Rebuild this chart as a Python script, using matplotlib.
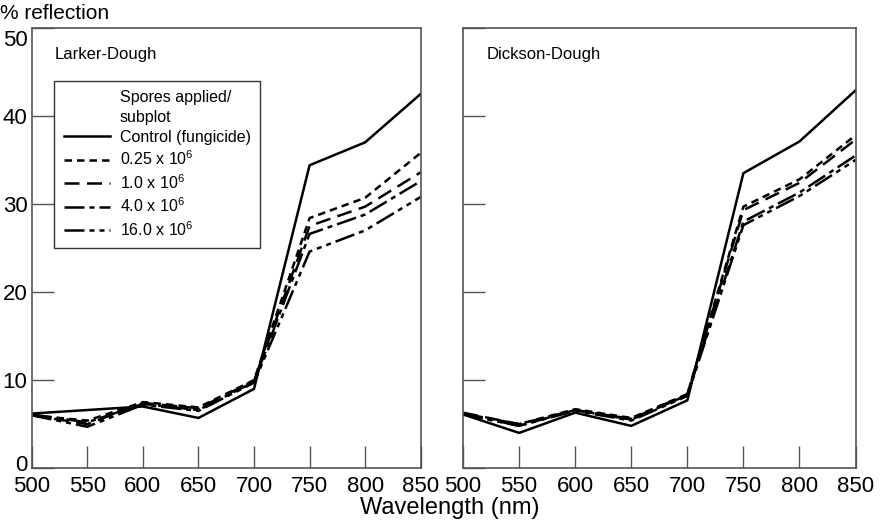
import matplotlib
matplotlib.use("Agg")
import matplotlib.pyplot as plt
import matplotlib.transforms as mtransforms
from matplotlib.lines import Line2D

plt.rcParams['font.family'] = ['Liberation Sans', 'DejaVu Sans']
plt.rcParams['mathtext.fontset'] = 'custom'
plt.rcParams['mathtext.rm'] = 'Liberation Sans'
plt.rcParams['mathtext.it'] = 'Liberation Sans'

wavelength = [500, 550, 600, 650, 700, 750, 800, 850]

series_labels = ['Control (fungicide)', '0.25 x 10$^6$', '1.0 x 10$^6$',
                 '4.0 x 10$^6$', '16.0 x 10$^6$']

# Larker-Dough
larker = [
    [6.2, 6.6, 7.0, 5.7, 9.0, 34.4, 37.0, 42.5],
    [6.0, 5.4, 7.5, 6.9, 10.0, 28.4, 30.7, 35.8],
    [6.0, 5.0, 7.4, 6.8, 9.9, 27.5, 29.7, 33.6],
    [6.1, 5.2, 7.3, 6.6, 9.8, 26.6, 28.8, 32.6],
    [6.0, 4.7, 7.2, 6.5, 9.7, 24.6, 27.0, 30.8],
]

# Dickson-Dough
dickson = [
    [6.1, 4.0, 6.3, 4.8, 7.7, 33.5, 37.1, 42.9],
    [6.2, 5.0, 6.7, 5.7, 8.4, 29.7, 32.8, 37.8],
    [6.3, 5.0, 6.6, 5.6, 8.4, 29.3, 32.4, 37.3],
    [6.2, 4.8, 6.6, 5.5, 8.3, 28.0, 31.3, 35.5],
    [6.1, 4.8, 6.5, 5.4, 8.2, 27.6, 30.9, 35.0],
]

styles = ['-', (0, (3, 2)), (0, (6, 3)), (0, (8, 2, 2, 2)), (0, (8, 2, 2, 2, 2, 2))]

fig = plt.figure(figsize=(8.82, 5.26), dpi=100)
ax1 = fig.add_axes([0.036, 0.110, 0.441, 0.837])
ax2 = fig.add_axes([0.525, 0.110, 0.445, 0.837])

handles = []
for ax, data, name in [(ax1, larker, 'Larker-Dough'), (ax2, dickson, 'Dickson-Dough')]:
    hs = []
    for vals, lab, ls in zip(data, series_labels, styles):
        h, = ax.plot(wavelength, vals, color='black', lw=1.8, linestyle=ls, label=lab)
        hs.append(h)
    if not handles:
        handles = hs
    ax.set_xlim(500, 850)
    ax.set_ylim(0, 50)
    ax.set_xticks(wavelength)
    ax.set_yticks([0, 10, 20, 30, 40, 50])
    ax.tick_params(direction='in', length=16, width=1, color='#555555',
                   labelsize=16)
    ax.tick_params(axis='x', pad=6)
    ax.tick_params(axis='y', pad=3)
    for s in ax.spines.values():
        s.set_color('#555555')
        s.set_linewidth(1.2)
    ax.text(0.06, 0.94, name, transform=ax.transAxes, fontsize=12,
            va='center', ha='left')

ax2.tick_params(labelleft=False)

# top label "50" sits below its tick, "0" a little above, as in the original
fig.canvas.draw()
ylabs = ax1.get_yticklabels()
ylabs[-1].set_transform(ylabs[-1].get_transform() +
                        mtransforms.ScaledTranslation(0, -10 / 100, fig.dpi_scale_trans))
ylabs[0].set_transform(ylabs[0].get_transform() +
                       mtransforms.ScaledTranslation(0, 5 / 100, fig.dpi_scale_trans))

blank = Line2D([], [], linestyle='none')
leg = ax1.legend([blank, blank] + handles,
                 ['Spores applied/', 'subplot'] + series_labels,
                 loc='upper left', bbox_to_anchor=(0.058, 0.88),
                 borderaxespad=0, fontsize=11.5, frameon=True, fancybox=False,
                 edgecolor='black', handlelength=2.9, labelspacing=0.3,
                 borderpad=0.6, handletextpad=0.6)
leg.get_frame().set_linewidth(1.0)

fig.text(0.0, 0.975, '% reflection', fontsize=15, ha='left', va='center')
fig.text(0.51, 0.034, 'Wavelength (nm)', fontsize=17, ha='center', va='center')

fig.savefig('out.png', dpi=100)
